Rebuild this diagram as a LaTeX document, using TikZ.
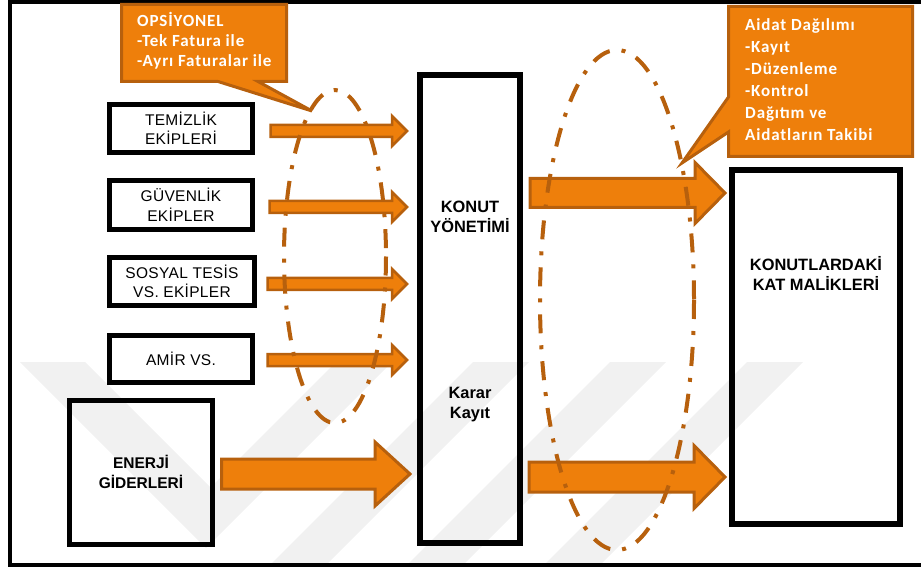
\documentclass[tikz,border=0pt]{standalone}
\usepackage{fontspec}
\setmainfont{Liberation Sans}
\newfontfamily\calloutfont[LetterSpace=5]{Carlito}
\newfontfamily\boxfont[LetterSpace=2]{Liberation Sans}
\usetikzlibrary{calc}

\definecolor{orangefill}{HTML}{EE7F0B}
\definecolor{orangeedge}{HTML}{B7600D}
\definecolor{markgray}{HTML}{F1F1F1}

% block arrow from #1 to the x of #2, at the height of #1:
% #3 half shaft height, #4 half head height, #5 head length, #6 style
\newcommand\fatarrow[6]{%
  \path[#6] let \p1=(#1), \p2=(#2) in
    (\x1,\y1+#3) -- (\x2-#5,\y1+#3) -- (\x2-#5,\y1+#4) -- (\x2,\y1)
    -- (\x2-#5,\y1-#4) -- (\x2-#5,\y1-#3) -- (\x1,\y1-#3) -- cycle;}

\tikzset{
  box/.style={draw=black, line width=5pt, align=center, inner sep=0pt,
    font=\boxfont\fontsize{15.5}{19.5}\selectfont},
  tallbox/.style={draw=black, line width=6pt, inner sep=0pt},
  boldlabel/.style={align=center, inner sep=0pt,
    font=\bfseries\fontsize{16.4}{20}\selectfont},
  flowarrow/.style={fill=orangefill, draw=orangeedge, line width=2.5pt},
  bigflow/.style={fill=orangefill, draw=orangeedge, line width=3pt},
  grouping/.style={draw=orangeedge, line width=4pt,
    dash pattern=on 19pt off 12pt on 4pt off 12pt},
  callout/.style={fill=orangefill, draw=orangeedge, line width=3pt},
  callouttext/.style={text=white, align=left, anchor=base west, inner sep=0pt,
    font=\calloutfont\bfseries\fontsize{17}{20}\selectfont},
}

\begin{document}
\begin{tikzpicture}[x=1pt, y=-1pt]
\useasboundingbox (0,0) rectangle (921,569);

% faint background chevrons
\begin{scope}
  \clip (12,362) rectangle (921,563);
  \fill[markgray] (20,362) -- (85,362) -- (210.5,487.5) -- (336,362)
    -- (392,362) -- (206,548) -- cycle;
  \foreach \r in {473,610,747}
    \fill[markgray] (\r,362) -- (\r+56,362) -- (\r-164,582) -- (\r-220,582) -- cycle;
\end{scope}

% page frame
\draw[line width=4pt] (935,2) -- (10,2) -- (10,565) -- (935,565);

% service providers
\node[box, minimum width=143pt, minimum height=48pt] (temizlik) at (181,128.5) {TEMİZLİK\\EKİPLERİ};
\node[box, minimum width=143pt, minimum height=49pt] (guvenlik) at (181,205) {GÜVENLİK\\EKİPLER};
\node[box, minimum width=145pt, minimum height=48pt] (sosyal) at (182,281.5) {SOSYAL TESİS\\VS. EKİPLER};
\node[box, minimum width=143pt, minimum height=47pt] (amir) at (181,359) {AMİR VS.};
\node[box, minimum width=143pt, minimum height=144pt,
  font=\bfseries\fontsize{15.5}{20}\selectfont] (enerji) at (141,472) {ENERJİ\\GİDERLERİ};

% management and owners
\node[tallbox, minimum width=100pt, minimum height=468pt] (konut) at (470,309) {};
\node[boldlabel] (konutlabel) at (470,217) {KONUT\\YÖNETİMİ};
\node[boldlabel] (kararlabel) at (470,405) {Karar\\Kayıt};
\node[tallbox, minimum width=168pt, minimum height=354pt] (kat) at (816,347) {};
\node[boldlabel] (katlabel) at (816,273) {KONUTLARDAKİ\\KAT MALİKLERİ};

% flows into the management
\fatarrow{$(temizlik.east)+(15.5,2.5)$}{$(konut.west)+(-10,0)$}{6pt}{15pt}{15pt}{flowarrow}
\fatarrow{$(guvenlik.east)+(14.5,2)$}{$(konut.west)+(-10,0)$}{6pt}{15pt}{15pt}{flowarrow}
\fatarrow{$(sosyal.east)+(10.5,2.5)$}{$(konut.west)+(-10,0)$}{6pt}{15pt}{15pt}{flowarrow}
\fatarrow{$(amir.east)+(12.5,1)$}{$(konut.west)+(-10,0)$}{6pt}{15pt}{15pt}{flowarrow}
\fatarrow{$(enerji.east)+(6.5,2)$}{$(konut.west)+(-7,0)$}{15pt}{32pt}{35pt}{bigflow}

% flows to the owners
\fatarrow{$(konut.east)+(7,-116)$}{$(kat.west)+(-4,0)$}{14.5pt}{30.5pt}{30pt}{bigflow}
\fatarrow{$(konut.east)+(6,168)$}{$(kat.west)+(-4,0)$}{15pt}{31.5pt}{31pt}{bigflow}

% grouping rings
\draw[grouping] (335,256.5) ellipse [x radius=51, y radius=166.5];
\draw[grouping] (617,300) ellipse [x radius=77, y radius=250];

% callouts (text anchored at the baseline of the last line)
\draw[callout] (121.5,4.5) -- (286.5,4.5) -- (286.5,81.5) -- (258,81.5)
  -- (312,111) -- (218,81.5) -- (121.5,81.5) -- cycle;
\node[callouttext] (opsiyonel) at (137,66.7) {OPSİYONEL\\-Tek Fatura ile\\-Ayrı Faturalar ile};

\draw[callout] (728.5,6.5) -- (912.5,6.5) -- (912.5,156.5) -- (728.5,156.5)
  -- (728.5,132) -- (682,163) -- (728.5,97) -- cycle;
\node[callouttext, font=\calloutfont\bfseries\fontsize{17}{22}\selectfont] (aidat) at (745,141)
  {Aidat Dağılımı\\-Kayıt\\-Düzenleme\\-Kontrol\\Dağıtım ve\\Aidatların Takibi};
\end{tikzpicture}
\end{document}
